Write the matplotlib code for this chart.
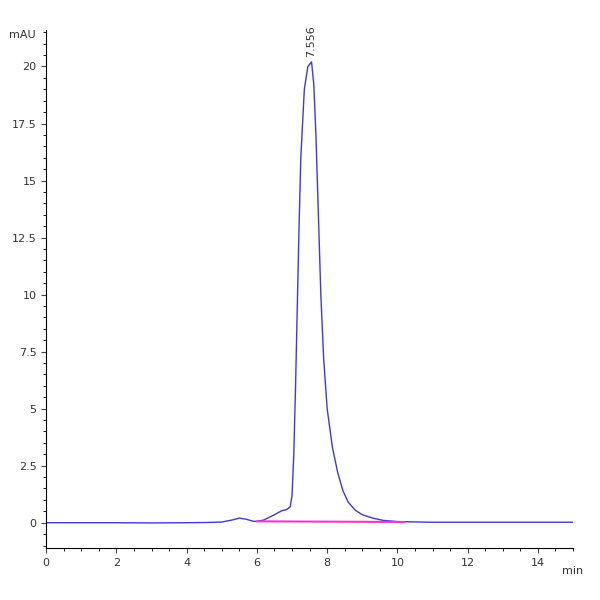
import numpy as np
import matplotlib.pyplot as plt
from matplotlib.ticker import MultipleLocator

# chromatogram trace (min, mAU)
time = [0, 1, 2, 3, 4, 4.6, 5.0, 5.3, 5.5, 5.7, 5.9, 6.0, 6.2, 6.5, 6.7, 6.85, 6.95,
        7.0, 7.05, 7.1, 7.15, 7.2, 7.25, 7.35, 7.45, 7.556, 7.62, 7.68, 7.75, 7.82, 7.9, 8.0,
        8.15, 8.3, 8.45, 8.6, 8.8, 9.0, 9.3, 9.6, 10.0, 11, 12, 13, 14, 15]
signal = [0, 0, 0, -0.01, 0, 0.01, 0.03, 0.12, 0.2, 0.15, 0.06, 0.06, 0.12, 0.35, 0.52, 0.58, 0.7,
          1.2, 3.0, 6.0, 9.5, 13.0, 16.0, 19.0, 20.0, 20.2, 19.2, 17.0, 13.5, 10.0, 7.2, 5.0,
          3.3, 2.2, 1.4, 0.9, 0.55, 0.35, 0.2, 0.1, 0.05, 0.02, 0.02, 0.02, 0.02, 0.02]
base_t = [6.0, 10.2]
base_y = [0.06, 0.03]
peak_rt = 7.556
peak_h = 20.2

fig, ax = plt.subplots(figsize=(6, 6), dpi=100)
fig.subplots_adjust(left=0.077, right=0.955, bottom=0.087, top=0.95)
ax.plot(time, signal, color='#3a3ae0', lw=1)
ax.plot(base_t, base_y, color='#ff33cc', lw=1.5)
ax.text(peak_rt, peak_h + 0.2, f'{peak_rt:.3f}', rotation=90, ha='center', va='bottom',
        fontsize=8, color='#333333')

ax.set_xlim(0, 15)
ax.set_ylim(-1.1, 21.6)
ax.xaxis.set_major_locator(MultipleLocator(2))
ax.xaxis.set_minor_locator(MultipleLocator(0.5))
ax.yaxis.set_major_locator(MultipleLocator(2.5))
ax.yaxis.set_minor_locator(MultipleLocator(0.5))
ax.yaxis.set_major_formatter(plt.FuncFormatter(lambda v, p: f'{v:g}'))
for s in ['top', 'right']:
    ax.spines[s].set_visible(False)
ax.tick_params(labelsize=8, color='#444444', labelcolor='#333333')
ax.tick_params(which='minor', length=2)
ax.text(-0.02, 1.0, 'mAU', transform=ax.transAxes, ha='right', va='top', fontsize=8, color='#333333')
ax.text(1.0, -0.035, 'min', transform=ax.transAxes, ha='center', va='top', fontsize=8, color='#333333')

fig.savefig('out.png')
